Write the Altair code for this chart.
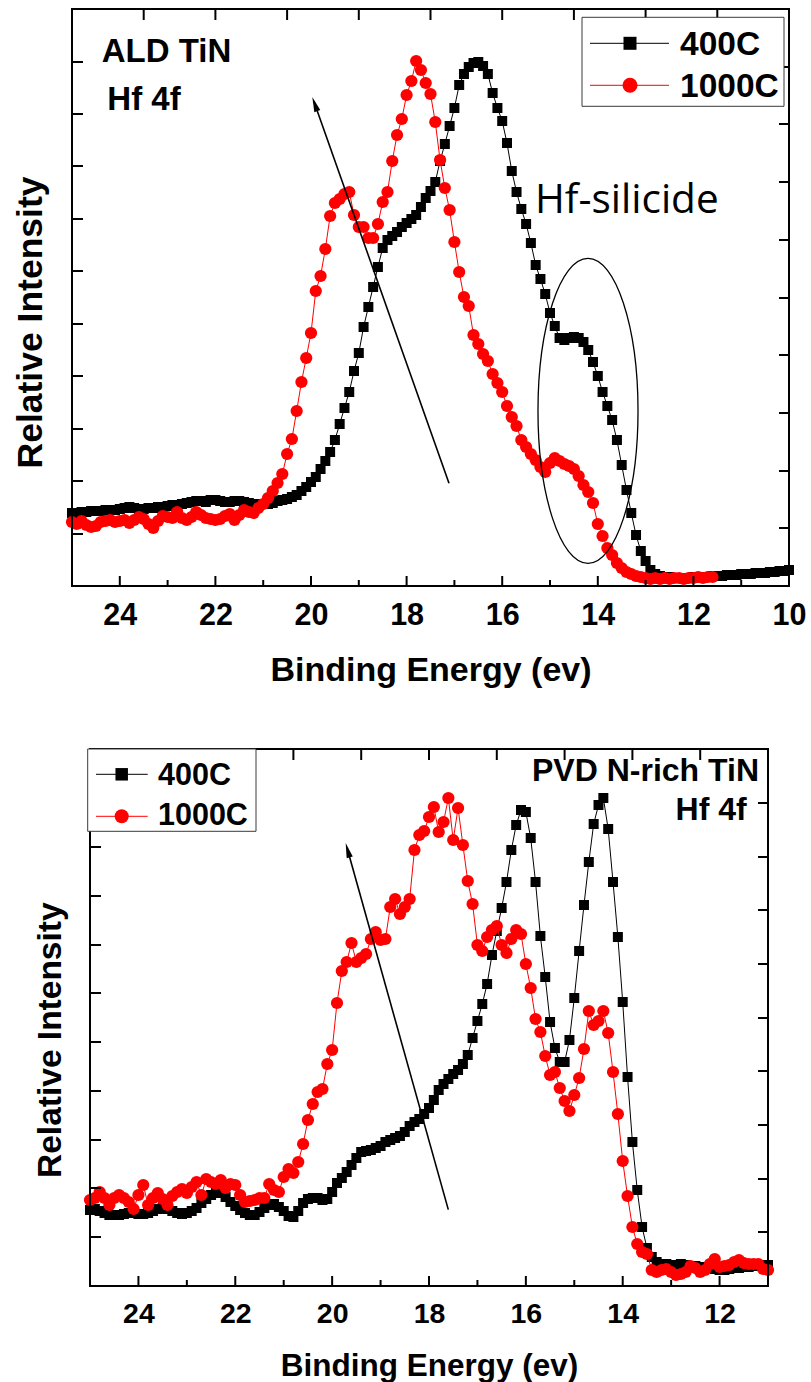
import altair as alt
import pandas as pd

FONT = "Liberation Sans"

# ---------------- data (binding energy in eV, intensity in arbitrary units) ----------------
# sampling grid of the spectrometer: 0.1 eV steps
E_TOP_400 = [round(25.0 - 0.1 * i, 1) for i in range(151)]    # 25.0 .. 10.0
E_TOP_1000 = [round(25.0 - 0.1 * i, 1) for i in range(135)]   # 25.0 .. 11.6
E_BOT = [round(25.0 - 0.1 * i, 1) for i in range(141)]        # 25.0 .. 11.0

TOP_400 = [
    73, 73, 74, 74, 75, 75, 75, 76, 76, 76,
    77, 78, 79, 78, 77, 77, 78, 78, 79, 79,
    80, 81, 81, 82, 83, 84, 85, 85, 84, 86,
    86, 85, 84, 84, 85, 85, 84, 83, 82, 81,
    82, 82, 83, 85, 86, 87, 89, 91, 95, 99,
    104, 109, 117, 125, 134, 146, 162, 178, 194, 215,
    233, 259, 279, 299, 319, 338, 346, 350, 354, 359,
    363, 367, 371, 379, 388, 395, 404, 425, 442, 460,
    478, 501, 512, 519, 523, 524, 520, 512, 493, 478,
    465, 443, 415, 394, 377, 362, 343, 321, 307, 292,
    273, 260, 248, 246, 248, 249, 248, 244, 236, 224,
    210, 194, 180, 166, 146, 121, 96, 73, 51, 35,
    25, 16, 12, 10, 9, 9, 8, 8, 8, 8,
    9, 9, 9, 9, 10, 10, 10, 11, 11, 11,
    12, 12, 12, 13, 13, 13, 14, 14, 15, 15,
    16,
]
TOP_1000 = [
    64, 62, 65, 61, 59, 60, 64, 65, 66, 64,
    65, 66, 63, 66, 69, 67, 62, 58, 65, 70,
    69, 68, 74, 68, 66, 69, 74, 71, 68, 67,
    66, 67, 70, 72, 66, 71, 76, 74, 73, 78,
    82, 88, 95, 103, 112, 132, 147, 175, 204, 228,
    253, 295, 310, 337, 370, 383, 387, 392, 394, 371,
    359, 359, 348, 348, 362, 384, 394, 425, 451, 467,
    491, 505, 525, 516, 503, 492, 464, 426, 398, 376,
    344, 314, 289, 280, 251, 242, 232, 225, 212, 203,
    194, 180, 169, 160, 146, 139, 132, 126, 119, 114,
    123, 128, 125, 122, 120, 117, 110, 101, 94, 83,
    62, 50, 38, 31, 23, 18, 14, 12, 10, 9,
    8, 7, 8, 7, 8, 7, 8, 8, 7, 8,
    8, 9, 8, 9, 9,
]
BOT_400 = [
    76, 77, 75, 73, 71, 71, 71, 72, 73, 73,
    72, 72, 73, 75, 77, 78, 77, 75, 73, 72,
    73, 75, 78, 83, 87, 91, 94, 93, 89, 84,
    80, 76, 73, 71, 71, 74, 78, 81, 82, 79,
    75, 70, 69, 75, 83, 87, 88, 88, 86, 87,
    94, 103, 108, 114, 121, 128, 134, 135, 136, 138,
    140, 144, 146, 148, 150, 154, 160, 164, 167, 172,
    178, 186, 196, 202, 207, 212, 216, 222, 231, 248,
    265, 282, 302, 331, 355, 378, 404, 436, 461, 476,
    474, 448, 404, 350, 309, 264, 238, 224, 224, 246,
    288, 335, 381, 424, 462, 481, 488, 457, 404, 349,
    284, 209, 144, 96, 59, 38, 29, 24, 22, 22,
    21, 21, 22, 21, 20, 20, 19, 19, 18, 17,
    16, 16, 17, 18, 18, 19, 19, 20, 20, 21,
    21,
]
BOT_1000 = [
    86, 88, 94, 88, 81, 88, 91, 88, 84, 77,
    91, 101, 81, 88, 93, 87, 81, 90, 94, 97,
    93, 99, 104, 91, 107, 104, 102, 106, 98, 102,
    101, 91, 84, 85, 86, 88, 88, 102, 96, 94,
    109, 117, 113, 124, 142, 166, 182, 194, 197, 222,
    236, 283, 315, 324, 343, 324, 328, 332, 347, 354,
    346, 347, 379, 387, 372, 379, 387, 436, 451, 455,
    469, 479, 454, 464, 488, 446, 478, 441, 405, 382,
    341, 335, 349, 356, 360, 341, 333, 347, 356, 352,
    322, 298, 267, 254, 230, 211, 214, 198, 185, 175,
    191, 208, 237, 275, 261, 265, 275, 253, 214, 172,
    125, 90, 59, 42, 34, 32, 16, 14, 16, 17,
    14, 11, 12, 14, 20, 18, 14, 16, 22, 27,
    19, 20, 21, 24, 26, 23, 22, 22, 22, 17,
    16,
]

SERIES = ["400C", "1000C"]
X_LABELS_TOP = [24, 22, 20, 18, 16, 14, 12, 10]
X_LABELS_BOT = [24, 22, 20, 18, 16, 14, 12]
X_MAJOR_TOP = [24, 22, 20, 18, 16, 14, 12]
X_MINOR_TOP = [23, 21, 19, 17, 15, 13, 11]
X_MIRROR_TOP = [23.5, 22, 20.5, 19, 17.5, 16, 14.5, 13, 11.5]
X_MAJOR_BOT = [24, 22, 20, 18, 16, 14, 12]
X_MINOR_BOT = [23, 21, 19, 17, 15, 13]
X_MIRROR_BOT = [23.6, 22.2, 20.8, 19.4, 18.0, 16.6, 15.2, 13.8, 12.4]
Y_TICKS_TOP = [52, 105, 157, 210, 262, 315, 367, 420, 472, 524]
Y_MIRROR_TOP = [58, 115, 173, 231, 288, 346, 404, 462, 519]
Y_TICKS_BOT = [49, 98, 146, 195, 244, 293, 341, 390, 439, 488]
Y_MIRROR_BOT = [54, 107, 161, 215, 268, 322, 376, 429, 483]

ONE = pd.DataFrame({"k": [0]})


def panel(W, H, x0, x1, xdom, ymax, e400, v400, e1000, v1000,
          xlabels, xmajor, xminor, xmirror, yticks, ymirror,
          label_size, label_pad, xtitle_size, xtitle_y,
          ytitle_size, ytitle_x, ytitle_y, extras):
    xs = alt.Scale(domain=xdom, range=[x0, x1], nice=False, zero=False)
    ys = alt.Scale(domain=[0, ymax], nice=False, zero=False)
    xaxis = alt.Axis(values=xlabels, format="d", labelFont=FONT, labelFontSize=label_size,
                     labelFontWeight="bold", labelColor="black", labelPadding=label_pad,
                     labelFlush=False, labelOverlap=False, ticks=False, domain=False, grid=False,
                     title="Binding Energy (ev)", titleFont=FONT, titleFontSize=xtitle_size,
                     titleFontWeight="bold", titleColor="black", titleBaseline="alphabetic",
                     titleAlign="center", titleX=(x0 + x1) / 2, titleY=xtitle_y)
    yaxis = alt.Axis(labels=False, ticks=False, domain=False, grid=False,
                     title="Relative Intensity", titleFont=FONT, titleFontSize=ytitle_size,
                     titleFontWeight="bold", titleColor="black", titleAngle=270,
                     titleAlign="center", titleBaseline="alphabetic",
                     titleX=ytitle_x, titleY=ytitle_y)
    X = alt.X("e:Q", scale=xs, axis=xaxis)
    Y = alt.Y("h:Q", scale=ys, axis=yaxis)

    d400 = pd.DataFrame({"e": e400, "h": v400})
    d1000 = pd.DataFrame({"e": e1000, "h": v1000})

    layers = []
    layers.append(alt.Chart(d400).mark_line(color="black", strokeWidth=1).encode(x=X, y=Y))
    layers.append(alt.Chart(d400).mark_point(shape="square", filled=True, size=100,
                                             color="black", opacity=1).encode(x=X, y=Y))
    layers.append(alt.Chart(d1000).mark_line(color="#ff0000", strokeWidth=1).encode(x=X, y=Y))
    layers.append(alt.Chart(d1000).mark_point(shape="circle", filled=True, size=150,
                                              color="#ff0000", opacity=1).encode(x=X, y=Y))
    # inward ticks on all four sides
    layers.append(alt.Chart(pd.DataFrame({"e": xmajor})).mark_rule(color="black", strokeWidth=2)
                  .encode(x=X, y=alt.value(H), y2=alt.value(H - 10)))
    layers.append(alt.Chart(pd.DataFrame({"e": xminor})).mark_rule(color="black", strokeWidth=2)
                  .encode(x=X, y=alt.value(H), y2=alt.value(H - 6)))
    layers.append(alt.Chart(pd.DataFrame({"e": xmirror})).mark_rule(color="black", strokeWidth=2)
                  .encode(x=X, y=alt.value(0), y2=alt.value(11)))
    layers.append(alt.Chart(pd.DataFrame({"h": yticks})).mark_rule(color="black", strokeWidth=2)
                  .encode(y=Y, x=alt.value(x0), x2=alt.value(x0 + 11)))
    layers.append(alt.Chart(pd.DataFrame({"h": ymirror})).mark_rule(color="black", strokeWidth=2)
                  .encode(y=Y, x=alt.value(x1), x2=alt.value(x1 - 10)))
    # frame
    layers.append(alt.Chart(ONE).mark_rect(filled=False, stroke="black", strokeWidth=2)
                  .encode(x=alt.value(x0), x2=alt.value(x1), y=alt.value(0), y2=alt.value(H)))
    layers.extend(extras)
    return alt.layer(*layers).properties(width=W, height=H)


def text(t, x, y, size, align="left", weight="bold", font=FONT):
    return alt.Chart(ONE).mark_text(text=t, font=font, fontSize=size, fontWeight=weight,
                                    align=align, baseline="alphabetic", color="black").encode(
        x=alt.value(x), y=alt.value(y))


def legend(bx0, bx1, by0, by1, lx0, lx1, mx, r1, r2, tx, b1, b2, fs, sq, ci):
    out = [alt.Chart(ONE).mark_rect(fill="white", stroke="#3a3a3a", strokeWidth=1)
           .encode(x=alt.value(bx0), x2=alt.value(bx1), y=alt.value(by0), y2=alt.value(by1))]
    for r, col in ((r1, "black"), (r2, "#ff0000")):
        out.append(alt.Chart(ONE).mark_rule(color=col, strokeWidth=1)
                   .encode(x=alt.value(lx0), x2=alt.value(lx1), y=alt.value(r)))
    out.append(alt.Chart(ONE).mark_point(shape="square", filled=True, size=sq, color="black", opacity=1)
               .encode(x=alt.value(mx), y=alt.value(r1)))
    out.append(alt.Chart(ONE).mark_point(shape="circle", filled=True, size=ci, color="#ff0000", opacity=1)
               .encode(x=alt.value(mx), y=alt.value(r2)))
    out.append(text(SERIES[0], tx, b1, fs))
    out.append(text(SERIES[1], tx, b2, fs))
    return out


HEAD = "M0,-1L0.42,1L-0.42,1Z"


def arrow(tx, ty, hx, hy, ang):
    return [
        alt.Chart(ONE).mark_rule(color="black", strokeWidth=1.6)
        .encode(x=alt.value(tx), y=alt.value(ty), x2=alt.value(hx), y2=alt.value(hy)),
        alt.Chart(ONE).mark_point(shape=HEAD, filled=True, size=225, color="black", opacity=1,
                                  angle=ang).encode(x=alt.value(hx), y=alt.value(hy)),
    ]


ELLIPSE = "M-0.328,0A0.328,1,0,1,1,0.328,0A0.328,1,0,1,1,-0.328,0Z"

top_extras = (
    [text("ALD TiN", 29.7, 53, 33), text("Hf 4f", 35.3, 101.3, 33),
     text("Hf-silicide", 463, 204.3, 40.5, weight="normal", font="Open Sans"),
     alt.Chart(ONE).mark_point(shape=ELLIPSE, filled=False, size=93025, color="black",
                               strokeWidth=1.3, opacity=1).encode(x=alt.value(516), y=alt.value(401.8))]
    + arrow(377, 474.3, 242.8, 95.1, 340.5)
    + legend(510, 712, 8.3, 97.3, 518, 597, 558, 34.3, 76.3, 608, 46.3, 88, 33.5, 169, 225)
)

bot_extras = (
    [text("PVD N-rich TiN", 687, 32.3, 32, align="right"),
     text("Hf 4f", 674.7, 70.6, 32, align="right")]
    + arrow(376.3, 460.6, 275.7, 101.2, 344.4)
    + legend(15.7, 184, 0, 82.3, 24, 75.7, 49.7, 25.3, 67.3, 86, 35.6, 75.6, 30.5, 156, 196)
)

top = panel(717, 577, 0, 717, [25, 10], 577, E_TOP_400, TOP_400, E_TOP_1000, TOP_1000,
            X_LABELS_TOP, X_MAJOR_TOP, X_MINOR_TOP, X_MIRROR_TOP, Y_TICKS_TOP, Y_MIRROR_TOP,
            30.5, 14, 34, 94.3, 35.5, -31, 313, top_extras)

bot = panel(696, 537, 18, 696, [25, 11], 537, E_BOT, BOT_400, E_BOT, BOT_1000,
            X_LABELS_BOT, X_MAJOR_BOT, X_MINOR_BOT, X_MIRROR_BOT, Y_TICKS_BOT, Y_MIRROR_BOT,
            28.5, 13, 31.5, 89, 33.5, -12, 290.7, bot_extras)

chart = (
    alt.vconcat(top, bot, spacing=60)
    .properties(padding={"left": 13, "top": 8, "right": 0, "bottom": 0}, background="white")
    .configure_view(strokeWidth=0)
)

chart.save("out.html", embed_options={"renderer": "svg", "actions": False})
